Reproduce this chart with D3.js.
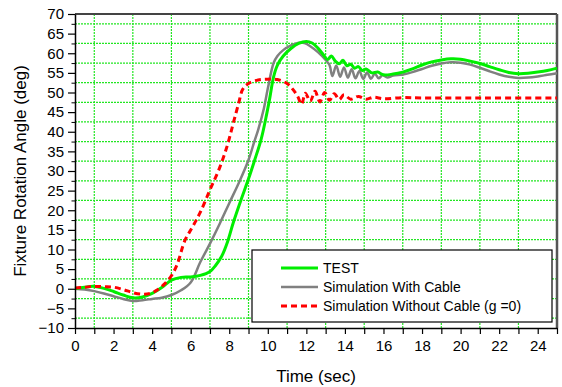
<!DOCTYPE html>
<html>
<head>
<meta charset="utf-8">
<script src="https://cdn.jsdelivr.net/npm/d3@7"></script>
<style>
  body { margin: 0; background: #fff; }
  svg { font-family: "Liberation Sans", Arial, sans-serif; }
</style>
</head>
<body>
<svg id="chart" width="562" height="387"></svg>
<script>
// TEST (measured)
var testT = [0, 0.5, 1.0, 1.5, 2.0, 2.5, 3.0, 3.5, 4.0, 4.5, 5.0, 5.5, 6.0, 6.5, 7.0, 7.3, 7.6, 7.9, 8.2, 8.6, 9.0, 9.3, 9.65, 9.9, 10.1, 10.3, 10.5, 10.8, 11.2, 11.6, 12.0, 12.3, 12.6, 12.9, 13.1, 13.3, 13.5, 13.7, 13.9, 14.1, 14.3, 14.5, 14.7, 14.9, 15.1, 15.4, 15.7, 16.0, 16.5, 17.0, 17.5, 18.0, 18.5, 19.0, 19.5, 20.0, 20.5, 21.0, 21.5, 22.0, 22.5, 23.0, 23.5, 24.0, 24.5, 25.0];
var testV = [0, 0.4, 0.6, 0.1, -0.7, -1.6, -2.3, -2.1, -1.2, 0.3, 2.2, 2.9, 3.0, 3.4, 4.4, 6.0, 8.2, 11.8, 16.7, 22.5, 28.0, 32.5, 38.0, 43.5, 48.5, 54.0, 57.0, 59.3, 61.2, 62.5, 63.0, 62.6, 61.3, 59.5, 58.4, 59.3, 58.0, 57.3, 58.2, 56.8, 57.2, 56.2, 56.6, 55.6, 56.0, 55.0, 55.2, 54.5, 54.7, 55.2, 56.0, 57.0, 57.8, 58.3, 58.6, 58.5, 58.0, 57.4, 56.6, 55.8, 55.1, 54.8, 54.9, 55.2, 55.6, 56.2];

// Simulation With Cable
var cableT = [0, 0.5, 1.0, 1.5, 2.0, 2.5, 3.0, 3.5, 4.0, 4.5, 5.0, 5.5, 6.0, 6.5, 7.0, 7.5, 8.0, 8.5, 9.0, 9.3, 9.5, 9.8, 10.0, 10.3, 10.5, 10.8, 11.2, 11.6, 11.9, 12.2, 12.6, 13.0, 13.2, 13.35, 13.55, 13.75, 13.95, 14.15, 14.35, 14.55, 14.75, 14.95, 15.15, 15.35, 15.55, 15.75, 15.95, 16.2, 16.5, 17.0, 17.5, 18.0, 18.5, 19.0, 19.5, 20.0, 20.5, 21.0, 21.5, 22.0, 22.5, 23.0, 23.5, 24.0, 24.5, 25.0];
var cableV = [0, -0.2, -0.6, -1.2, -1.9, -2.6, -3.1, -2.9, -2.6, -2.3, -1.6, -0.4, 1.6, 6.8, 11.5, 16.5, 21.8, 27.0, 32.8, 37.5, 40.5, 46.0, 51.0, 57.5, 59.3, 60.8, 62.0, 62.7, 62.6, 61.8, 60.3, 58.3, 57.0, 54.2, 56.9, 54.0, 56.4, 53.8, 55.9, 53.6, 55.5, 53.5, 55.1, 53.5, 54.8, 53.6, 54.4, 53.8, 54.3, 54.6, 55.2, 56.0, 56.8, 57.4, 57.7, 57.6, 57.1, 56.3, 55.4, 54.6, 54.0, 53.7, 53.8, 54.1, 54.5, 54.9];

// Simulation Without Cable (g = 0)
var noCableT = [0, 0.5, 1.0, 1.5, 2.0, 2.5, 3.0, 3.5, 3.9, 4.3, 4.7, 5.0, 5.3, 5.7, 6.1, 6.5, 7.0, 7.5, 7.9, 8.2, 8.5, 8.7, 9.0, 9.5, 10.0, 10.5, 11.0, 11.3, 11.55, 11.75, 11.95, 12.2, 12.45, 12.7, 12.95, 13.2, 13.45, 13.7, 13.95, 14.3, 14.7, 15.1, 15.5, 16.0, 17.0, 18.0, 20.0, 22.0, 25.0];
var noCableV = [0.2, 0.4, 0.6, 0.5, 0.4, -0.2, -1.0, -1.4, -1.2, -0.2, 1.5, 3.3, 6.2, 12.3, 15.8, 19.5, 25.2, 30.8, 36.5, 42.0, 47.5, 50.8, 52.3, 53.2, 53.4, 53.3, 52.3, 50.8, 49.0, 47.0, 49.8, 47.8, 50.3, 47.6, 50.0, 48.0, 49.7, 48.2, 49.4, 48.3, 49.0, 48.3, 48.8, 48.4, 48.7, 48.6, 48.6, 48.6, 48.6];

var legendLabels = ["TEST", "Simulation With Cable", "Simulation Without Cable (g =0)"];
var xTicks = d3.range(0, 26, 1);
var yTicks = d3.range(-10, 71, 5);
var yMinorTicks = d3.range(-7.5, 70, 5);
var xGrid = d3.range(1, 26, 2);

var svg = d3.select("#chart");
var margin = { left: 75, right: 5, top: 14, bottom: 59 };
var width = 562, height = 387;

var x = d3.scaleLinear().domain([0, 25]).range([margin.left, width - margin.right]);
var y = d3.scaleLinear().domain([-10, 70]).range([height - margin.bottom, margin.top]);

// grid
var grid = svg.append("g").attr("class", "grid");
grid.selectAll("line.gx")
  .data(xGrid)
  .enter().append("line")
    .attr("x1", function(d) { return x(d); })
    .attr("x2", function(d) { return x(d); })
    .attr("y1", y(-10))
    .attr("y2", y(70))
    .style("stroke", "#22e622")
    .style("stroke-width", 1.2)
    .style("stroke-dasharray", "2,1");
grid.selectAll("line.gy")
  .data(yMinorTicks)
  .enter().append("line")
    .attr("x1", x(0))
    .attr("x2", x(25))
    .attr("y1", function(d) { return y(d); })
    .attr("y2", function(d) { return y(d); })
    .style("stroke", "#22e622")
    .style("stroke-width", 1.2)
    .style("stroke-dasharray", "2,1");

// frame top + right
svg.append("line")
  .attr("x1", x(0)).attr("x2", x(25)).attr("y1", y(70)).attr("y2", y(70))
  .style("stroke", "#444").style("stroke-width", 2);
svg.append("line")
  .attr("x1", x(25)).attr("x2", x(25)).attr("y1", y(70)).attr("y2", y(-10))
  .style("stroke", "#555").style("stroke-width", 2.5);

// series
var makeLine = function(ts) {
  return d3.line()
    .curve(d3.curveCatmullRom.alpha(0.5))
    .x(function(d, i) { return x(ts[i]); })
    .y(function(d) { return y(d); });
};

svg.append("path")
  .datum(cableV)
  .attr("d", makeLine(cableT))
  .style("fill", "none")
  .style("stroke", "#808080")
  .style("stroke-width", 2.5);

svg.append("path")
  .datum(testV)
  .attr("d", makeLine(testT))
  .style("fill", "none")
  .style("stroke", "#00ee00")
  .style("stroke-width", 3);

svg.append("path")
  .datum(noCableV)
  .attr("d", makeLine(noCableT))
  .style("fill", "none")
  .style("stroke", "#ff0000")
  .style("stroke-width", 3)
  .style("stroke-dasharray", "6,4");

// axes
var xAxis = d3.axisBottom(x)
  .tickValues(xTicks)
  .tickSize(6)
  .tickSizeOuter(0)
  .tickPadding(6)
  .tickFormat(function(d) { return d % 2 === 0 ? d : ""; });

var gx = svg.append("g")
  .attr("transform", "translate(0," + y(-10) + ")")
  .call(xAxis);

var yAxis = d3.axisLeft(y)
  .tickValues(yTicks)
  .tickSize(7)
  .tickSizeOuter(0)
  .tickPadding(4);

var gy = svg.append("g")
  .attr("transform", "translate(" + x(0) + ",0)")
  .call(yAxis);

svg.append("g")
  .attr("transform", "translate(" + x(0) + ",0)")
  .call(d3.axisLeft(y).tickValues(yMinorTicks).tickSize(3.5).tickSizeOuter(0).tickFormat(""))
  .select(".domain").remove();

[gx, gy].forEach(function(g) {
  g.selectAll("text")
    .style("font-family", "'Liberation Sans', Arial, sans-serif")
    .style("font-size", "15px")
    .style("fill", "#000");
  g.selectAll("line").style("stroke", "#000").style("stroke-width", 1.2);
  g.select(".domain").style("stroke", "#000").style("stroke-width", 1.5);
});

// axis titles
svg.append("text")
  .text("Time (sec)")
  .attr("x", (x(0) + x(25)) / 2)
  .attr("y", 382)
  .attr("text-anchor", "middle")
  .style("font-size", "17px");

svg.append("text")
  .text("Fixture Rotation Angle (deg)")
  .attr("transform", "translate(26," + (y(30)) + ") rotate(-90)")
  .attr("text-anchor", "middle")
  .style("font-size", "17px");

// legend
var legend = svg.append("g");
legend.append("rect")
  .attr("x", 252).attr("y", 250)
  .attr("width", 300).attr("height", 72)
  .style("fill", "#fff")
  .style("stroke", "#000")
  .style("stroke-width", 1.2);

var legendStyles = [
  { color: "#00ee00", width: 3, dash: null },
  { color: "#808080", width: 2.5, dash: null },
  { color: "#ff0000", width: 3, dash: "6,4" }
];

legendLabels.forEach(function(label, i) {
  var ly = 268 + i * 19;
  legend.append("line")
    .attr("x1", 281).attr("x2", 318)
    .attr("y1", ly).attr("y2", ly)
    .style("stroke", legendStyles[i].color)
    .style("stroke-width", legendStyles[i].width)
    .style("stroke-dasharray", legendStyles[i].dash);
  legend.append("text")
    .text(label)
    .attr("x", 323)
    .attr("y", ly + 5)
    .style("font-size", "14px");
});
</script>
</body>
</html>
